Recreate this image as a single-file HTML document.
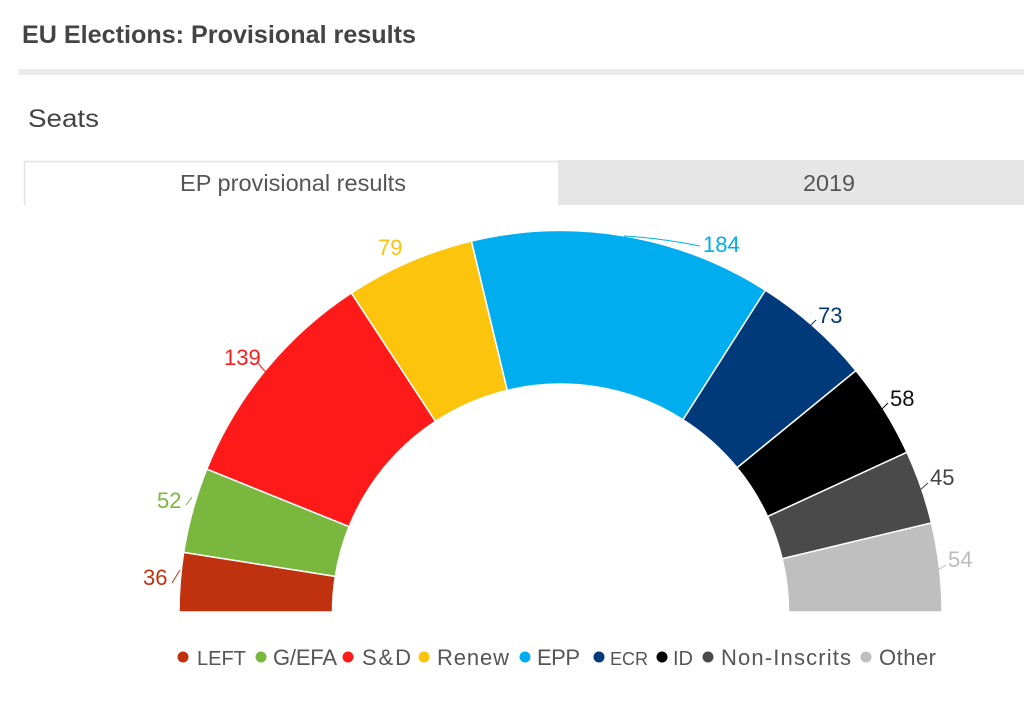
<!DOCTYPE html>
<html><head><meta charset="utf-8"><style>
html,body{margin:0;padding:0;background:#fff;width:1024px;height:705px;overflow:hidden}
svg{display:block}
text{font-family:"Liberation Sans Narrow","Liberation Sans",sans-serif}
</style></head><body>
<svg id="s" width="1024" height="705" viewBox="0 0 1024 705">
<text x="22" y="43" font-size="25" font-weight="bold" fill="#444" textLength="394" lengthAdjust="spacingAndGlyphs">EU Elections: Provisional results</text>
<rect x="18" y="69" width="1006" height="6" fill="#ececec"/>
<text x="28" y="127" font-size="25" fill="#444" textLength="71" lengthAdjust="spacingAndGlyphs">Seats</text>
<rect x="558" y="160" width="466" height="45" fill="#e6e6e6"/>
<path d="M24.5 205 V161.5 H558" fill="none" stroke="#e2e2e2" stroke-width="1.5"/>
<text x="180" y="191" font-size="23" fill="#555" textLength="226" lengthAdjust="spacingAndGlyphs">EP provisional results</text>
<text x="803" y="191" font-size="23" fill="#555" textLength="52" lengthAdjust="spacingAndGlyphs">2019</text>
<g id="arcs"></g>
<g stroke-width="1">
<path d="M172 583 L180 570" stroke="#c0320f"/>
<path d="M186 505 L192 497" stroke="#7ab73e"/>
<path d="M258 363 L268 375" stroke="#ff1a1a"/>
<path d="M624 236 Q660 238 700 246" stroke="#00aeef" fill="none"/>
<path d="M816 320 L808 328" stroke="#003a7a"/>
<path d="M888 403 L879 412" stroke="#111"/>
<path d="M928 483 L920 490" stroke="#444"/>
<path d="M946 565 L938 570" stroke="#bbb"/>
</g>
<g font-size="22">
<text x="143" y="585" fill="#c0320f">36</text>
<text x="157" y="508" fill="#7ab73e">52</text>
<text x="224" y="365" fill="#ff1a1a">139</text>
<text x="378" y="255" fill="#fcc40c">79</text>
<text x="703" y="252" fill="#00aeef">184</text>
<text x="818" y="323" fill="#003a7a">73</text>
<text x="890" y="406" fill="#111">58</text>
<text x="930" y="485" fill="#444">45</text>
<text x="948" y="567" fill="#bbb">54</text>
</g>
<g font-size="22" fill="#555" lengthAdjust="spacingAndGlyphs">
<circle cx="183" cy="657" r="5.5" fill="#c0320f"/><text x="197" y="665" font-size="20">LEFT</text>
<circle cx="261" cy="657" r="5.5" fill="#7ab73e"/><text x="273" y="665" textLength="64">G/EFA</text>
<circle cx="348" cy="657" r="5.5" fill="#ff1a1a"/><text x="362" y="665" textLength="49">S&amp;D</text>
<circle cx="424" cy="657" r="5.5" fill="#fcc40c"/><text x="437" y="665" textLength="72">Renew</text>
<circle cx="525" cy="657" r="5.5" fill="#00aeef"/><text x="537" y="665" textLength="43">EPP</text>
<circle cx="599" cy="657" r="5.5" fill="#003a7a"/><text x="610" y="665" font-size="18">ECR</text>
<circle cx="662" cy="657" r="5.5" fill="#000"/><text x="673" y="665" font-size="20">ID</text>
<circle cx="708" cy="657" r="5.5" fill="#4a4a4a"/><text x="721" y="665" textLength="130">Non-Inscrits</text>
<circle cx="866" cy="657" r="5.5" fill="#bfbfbf"/><text x="879" y="665" textLength="57">Other</text>
</g>
</svg>
<script>
var d=[[36,"#c0320f"],[52,"#7ab73e"],[139,"#ff1a1a"],[79,"#fcc40c"],[184,"#00aeef"],[73,"#003a7a"],[58,"#000"],[45,"#4a4a4a"],[54,"#bfbfbf"]];
var cx=560.5,cy=612,R=381.5,r=228,tot=720,acc=0,h="";
function p(a,rad){return (cx+rad*Math.cos(a)).toFixed(2)+" "+(cy-rad*Math.sin(a)).toFixed(2);}
d.forEach(function(e){var a0=Math.PI*(1-acc/tot);acc+=e[0];var a1=Math.PI*(1-acc/tot);
h+='<path d="M'+p(a0,R)+' A'+R+' '+R+' 0 0 1 '+p(a1,R)+' L'+p(a1,r)+' A'+r+' '+r+' 0 0 0 '+p(a0,r)+' Z" fill="'+e[1]+'" stroke="#fff" stroke-width="1.5"/>';});
document.getElementById("arcs").innerHTML=h;
</script>
</body></html>
